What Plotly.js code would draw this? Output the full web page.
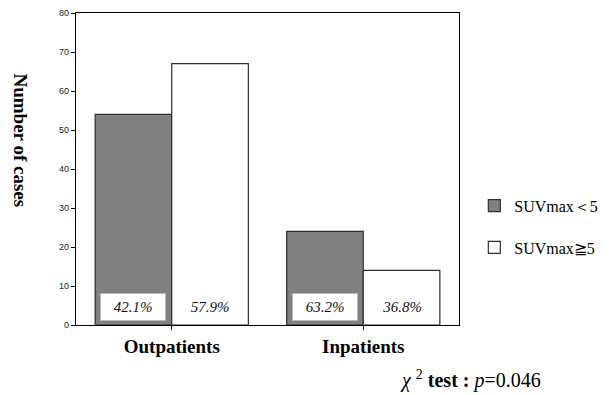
<!DOCTYPE html>
<html>
<head>
<meta charset="utf-8">
<script src="https://cdn.plot.ly/plotly-3.0.1.min.js"></script>
<style>html,body{margin:0;padding:0;background:#fff;}#chart{width:615px;height:395px;}</style>
</head>
<body>
<div id="chart"></div>
<script>
// Patient groups and case counts per SUVmax class
const categories = ['Outpatients', 'Inpatients'];
const seriesNames = ['SUVmax＜5', 'SUVmax≧5'];
const lowSUV = [54, 24];
const highSUV = [67, 14];
const lowPct = ['42.1%', '63.2%'];
const highPct = ['57.9%', '36.8%'];
const yTicks = [0, 10, 20, 30, 40, 50, 60, 70, 80];

const serif = 'Liberation Serif, Times New Roman, serif';
const sans = 'Liberation Sans, Arial, sans-serif';

const traces = [
  {
    type: 'bar', name: seriesNames[0], legendgroup: 'low', x: categories, y: lowSUV,
    marker: {color: '#808080', line: {color: '#2e2e2e', width: 1.2}},
    hoverinfo: 'none'
  },
  {
    type: 'bar', name: seriesNames[1], legendgroup: 'high', x: categories, y: highSUV,
    marker: {color: '#ffffff', line: {color: '#2e2e2e', width: 1.2}},
    hoverinfo: 'none'
  }
];

// Percentage labels near the foot of each bar (bars sit at index ∓ 0.2)
const annotations = [];
categories.forEach((c, i) => {
  annotations.push({
    xref: 'x', yref: 'y', x: i - 0.2, y: 0, yshift: 4, yanchor: 'bottom',
    text: lowPct[i], showarrow: false,
    font: {family: serif, size: 15, color: '#111', style: 'italic'},
    bgcolor: '#ffffff', bordercolor: '#bbbbbb', borderwidth: 1,
    width: 62, height: 24
  });
  annotations.push({
    xref: 'x', yref: 'y', x: i + 0.2, y: 0, yshift: 4, yanchor: 'bottom',
    text: highPct[i], showarrow: false,
    font: {family: serif, size: 15, color: '#111', style: 'italic'},
    width: 62, height: 24
  });
});

// Axis title, read top-to-bottom
annotations.push({
  xref: 'paper', yref: 'paper', x: -0.145, y: 0.59, xanchor: 'center', yanchor: 'middle',
  text: '<b>Number of cases</b>', textangle: 90, showarrow: false,
  font: {family: serif, size: 19, color: '#000'}
});

// Test result
annotations.push({
  xref: 'paper', yref: 'paper', x: 1.22, y: -0.175, xanchor: 'right', yanchor: 'middle',
  text: '<i>χ</i> <sup>2</sup> <b>test :</b> <i>p</i>=0.046', showarrow: false,
  font: {family: serif, size: 20, color: '#000'}
});

const layout = {
  width: 615, height: 395,
  margin: {l: 76, r: 156, t: 13, b: 70},
  paper_bgcolor: '#ffffff', plot_bgcolor: '#ffffff',
  barmode: 'group', bargap: 0.2, bargroupgap: 0,
  showlegend: true,
  legend: {
    x: 1.04, y: 0.315, xanchor: 'left', yanchor: 'middle',
    font: {family: serif, size: 16, color: '#000'},
    tracegroupgap: 18, itemwidth: 30
  },
  xaxis: {
    type: 'category', range: [-0.5, 1.5],
    showline: true, linecolor: '#000', linewidth: 1.3, mirror: true,
    ticks: 'outside', ticklen: 4, tickcolor: '#000',
    tickfont: {family: serif, size: 19, color: '#000', weight: 'bold'},
    showgrid: false, zeroline: false, fixedrange: true
  },
  yaxis: {
    range: [0, 80], tickvals: yTicks, ticktext: yTicks.map(String),
    showline: true, linecolor: '#000', linewidth: 1.3, mirror: true,
    ticks: 'outside', ticklen: 4, tickcolor: '#000',
    tickfont: {family: sans, size: 9, color: '#222'},
    showgrid: false, zeroline: false, fixedrange: true
  },
  annotations: annotations
};

Plotly.newPlot('chart', traces, layout, {displayModeBar: false, staticPlot: true});
</script>
</body>
</html>
